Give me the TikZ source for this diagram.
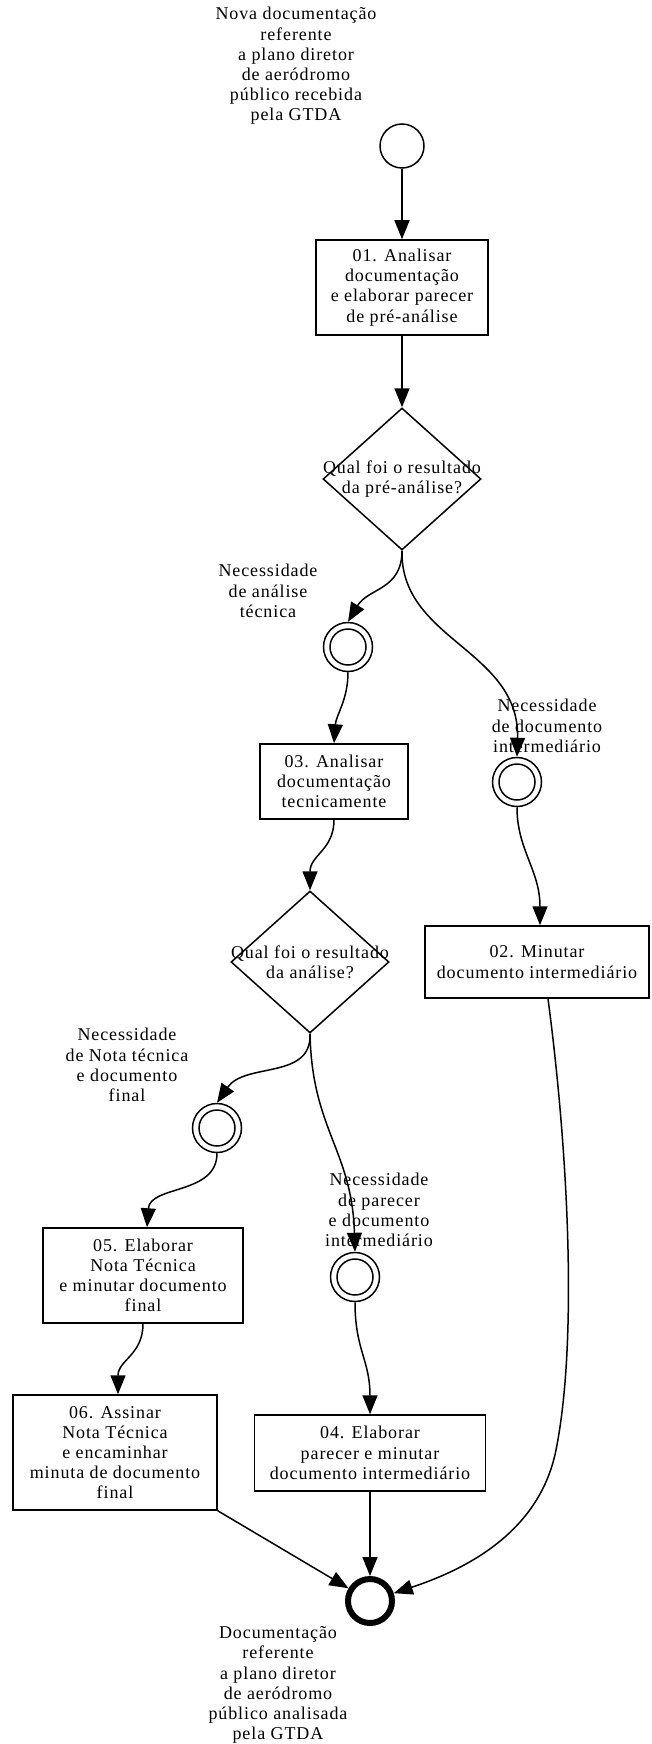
\documentclass[tikz,border=0pt]{standalone}
\usepackage{fontspec}
\setmainfont{Liberation Serif}[LetterSpace=5]
\usetikzlibrary{arrows.meta,shapes.geometric}
\newcommand\dfont{\fontsize{18pt}{20.2pt}\selectfont}
\tikzset{
  box/.style={draw, line width=1.5pt, rectangle, inner sep=0pt, align=center, font=\dfont},
  evt/.style={circle, draw, line width=1.5pt, minimum size=49pt, inner sep=0pt,
    path picture={\draw[line width=1.5pt] (path picture bounding box.center) circle (18pt);}},
  startevt/.style={circle, draw, line width=1.5pt, minimum size=44pt, inner sep=0pt},
  endevt/.style={circle, draw, line width=6pt, minimum size=44pt, inner sep=0pt},
  dec/.style={diamond, draw, line width=1.5pt, minimum width=158pt, minimum height=142pt, inner sep=0pt},
  lbl/.style={align=center, font=\dfont, inner sep=0pt},
  arr/.style={line width=1.5pt, -{Triangle[length=19pt,width=15pt]}}
}
\begin{document}
\begin{tikzpicture}[x=1pt,y=-1pt]
\fill[white] (0,0) rectangle (651,1744);
\useasboundingbox (0,0) rectangle (651,1744);

% events
\node[startevt] (start) at (402,146) {};
\node[lbl] (lstart) at (296,66) {Nova documentação\\referente\\a plano diretor\\de aeródromo\\público recebida\\pela GTDA};

\node[box, minimum width=172pt, minimum height=95pt] (b01) at (402,287.5)
  {01. Analisar\\documentação\\e elaborar parecer\\de pré-análise};

\node[dec, label={[lbl]center:Qual foi o resultado\\da pré-análise?}] (d1) at (402,479) {};

\node[evt] (e1) at (348,647) {};
\node[lbl] (le1) at (268,591) {Necessidade\\de análise\\técnica};

\node[evt] (e2) at (517,782) {};
\node[lbl] (le2) at (547,726) {Necessidade\\de documento\\intermediário};

\node[box, minimum width=148pt, minimum height=75pt] (b03) at (334,781.5)
  {03. Analisar\\documentação\\tecnicamente};

\node[box, minimum width=224pt, minimum height=72pt] (b02) at (537,962)
  {02. Minutar\\documento intermediário};

\node[dec, label={[lbl]center:Qual foi o resultado\\da análise?}] (d2) at (310,962) {};

\node[evt] (e3) at (217,1128) {};
\node[lbl] (le3) at (127,1065) {Necessidade\\de Nota técnica\\e documento\\final};

\node[evt] (e4) at (355,1277) {};
\node[lbl] (le4) at (379,1210) {Necessidade\\de parecer\\e documento\\intermediário};

\node[box, minimum width=200pt, minimum height=95pt] (b05) at (143,1275.5)
  {05. Elaborar\\Nota Técnica\\e minutar documento\\final};

\node[box, minimum width=204pt, minimum height=115pt] (b06) at (115,1452.5)
  {06. Assinar\\Nota Técnica\\e encaminhar\\minuta de documento\\final};

\node[box, minimum width=231pt, minimum height=76pt] (b04) at (370,1453)
  {04. Elaborar\\parecer e minutar\\documento intermediário};

\node[endevt] (end) at (370,1601) {};
\node[lbl] (lend) at (278,1685) {Documentação\\referente\\a plano diretor\\de aeródromo\\público analisada\\pela GTDA};

% connectors
\draw[arr] (start) -- (b01.north);
\draw[arr] (b01.south) -- (d1.north);
\draw[arr] (d1.south) .. controls (402,590) and (368,588) .. (e1.north);
\draw[arr] (d1.south) .. controls (400,640) and (520,650) .. (e2.north);
\draw[arr] (e1.south) .. controls (348,700) and (336,715) .. (b03.north);
\draw[arr] (b03.south) .. controls (334,850) and (310,855) .. (d2.north);
\draw[arr] (e2.south) .. controls (517,850) and (540,870) .. ([xshift=3pt]b02.north);
\draw[arr] (d2.south) .. controls (312,1080) and (245,1062) .. (e3.north);
\draw[arr] (d2.south) .. controls (312,1130) and (352,1150) .. (e4.north);
\draw[arr] (e3.south) .. controls (217,1195) and (150,1185) .. ([xshift=4pt]b05.north);
\draw[arr] (b05.south) .. controls (143,1355) and (118,1360) .. ([xshift=3pt]b06.north);
\draw[arr] (e4.south) .. controls (355,1350) and (370,1360) .. (b04.north);
\draw[arr] (b04.south) -- (end.north);
\draw[arr] (b06.south east) -- (end);
\draw[arr] ([xshift=11pt]b02.south) .. controls (568,1150) and (578,1340) .. (556,1450)
  .. controls (540,1530) and (470,1568) .. (end);
\end{tikzpicture}
\end{document}
